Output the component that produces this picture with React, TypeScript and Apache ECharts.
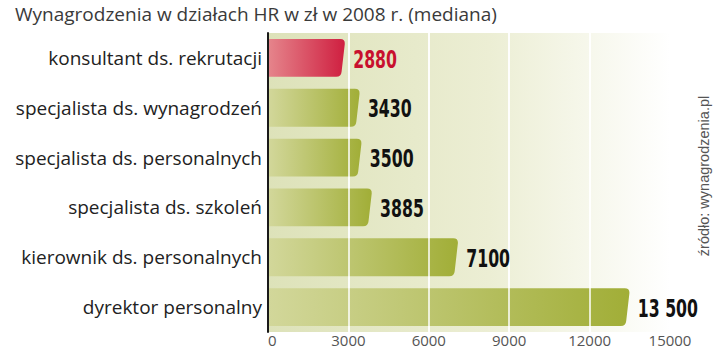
import React, { useEffect, useRef } from "react";
import * as echarts from "echarts";

const TITLE = "Wynagrodzenia w działach HR w zł w 2008 r. (mediana)";
const SOURCE = "źródło: wynagrodzenia.pl";
const categories = [
  "konsultant ds. rekrutacji",
  "specjalista ds. wynagrodzeń",
  "specjalista ds. personalnych",
  "specjalista ds. szkoleń",
  "kierownik ds. personalnych",
  "dyrektor personalny",
];
const values = [2880, 3430, 3500, 3885, 7100, 13500];
const highlighted = [true, false, false, false, false, false];
const xTicks = [0, 3000, 6000, 9000, 12000, 15000];

const fmt = (v: number) =>
  v >= 10000 ? String(v).replace(/\B(?=(\d{3})+(?!\d))/g, " ") : String(v);

export default function App() {
  const ref = useRef<HTMLDivElement>(null);
  useEffect(() => {
    if (!ref.current) return;
    const chart = echarts.init(ref.current, undefined, { renderer: "svg" });
    const green = () =>
      new echarts.graphic.LinearGradient(0, 0, 1, 0, [
        { offset: 0, color: "#d2d79a" },
        { offset: 1, color: "#a1ae37" },
      ]);
    const red = () =>
      new echarts.graphic.LinearGradient(0, 0, 1, 0, [
        { offset: 0, color: "#e5848b" },
        { offset: 1, color: "#cf1f40" },
      ]);
    chart.setOption({
      animation: false,
      backgroundColor: "#ffffff",
      grid: {
        left: 268,
        right: 50,
        top: 33,
        bottom: 22,
        show: true,
        borderWidth: 0,
        backgroundColor: new echarts.graphic.LinearGradient(0, 0, 1, 0, [
          { offset: 0, color: "#dde2b9" },
          { offset: 0.55, color: "#eceed4" },
          { offset: 1, color: "#ffffff" },
        ]),
      },
      graphic: [
        {
          type: "text",
          x: 15,
          y: 14,
          style: {
            text: TITLE,
            font: "19px 'Open Sans', sans-serif",
            fill: "#3a3a3a",
            verticalAlign: "middle",
          },
        },
        {
          type: "text",
          x: 704,
          y: 176,
          rotation: Math.PI / 2,
          style: {
            text: SOURCE,
            font: "14.5px 'Liberation Sans', Arial, sans-serif",
            fill: "#555555",
            align: "center",
            verticalAlign: "middle",
          },
        },
      ],
      xAxis: {
        type: "value",
        min: 0,
        max: 15000,
        interval: 3000,
        axisLine: { show: false },
        axisTick: { show: false },
        splitLine: { show: true, lineStyle: { color: "#ffffff", width: 1.5 } },
        axisLabel: {
          color: "#555555",
          fontSize: 15,
          fontFamily: "'Open Sans', sans-serif",
          margin: 8,
          verticalAlign: "middle",
          alignMinLabel: "left",
          formatter: (v: number) => (xTicks.includes(v) ? String(v) : ""),
        },
      },
      yAxis: {
        type: "category",
        data: categories,
        inverse: true,
        axisLine: { show: true, lineStyle: { color: "#1a1a1a", width: 2 } },
        axisTick: { show: false },
        axisLabel: {
          color: "#222222",
          fontSize: 19,
          fontFamily: "'Open Sans', sans-serif",
          margin: 6,
        },
      },
      series: [
        {
          type: "custom",
          z: 2,
          data: values.map((v, i) => [v, i]),
          renderItem: (params: any, api: any) => {
            const v = api.value(0);
            const i = api.value(1);
            const p1 = api.coord([v, i]);
            const p0 = api.coord([0, i]);
            const h = api.size([0, 1])[1] * 0.76;
            const x0 = p0[0] + 1;
            const x1 = p1[0];
            const y0 = p1[1] - h / 2;
            const y1 = p1[1] + h / 2;
            const r = 5;
            const s = 4;
            const d =
              `M${x0} ${y0} L${x1 - r} ${y0} Q${x1} ${y0} ${x1 - 0.4} ${y0 + r} ` +
              `L${x1 - s + 0.4} ${y1 - r} Q${x1 - s} ${y1} ${x1 - s - r} ${y1} ` +
              `L${x0} ${y1} Z`;
            return {
              type: "path",
              shape: { pathData: d },
              style: { fill: highlighted[i] ? red() : green() },
            };
          },
        },
        {
          type: "scatter",
          z: 3,
          data: [],
          markLine: {
            z: 3,
            silent: true,
            symbol: "none",
            label: { show: false },
            lineStyle: { color: "#ffffff", width: 1.5, type: "solid" },
            data: xTicks.slice(1).map((t) => ({ xAxis: t })),
          },
        },
        {
          type: "custom",
          z: 6,
          data: values.map((v, i) => [v, i]),
          renderItem: (params: any, api: any) => {
            const v = api.value(0);
            const i = api.value(1);
            const p = api.coord([v, i]);
            return {
              type: "text",
              x: p[0] + 8,
              y: p[1] + 1,
              scaleX: 0.7,
              style: {
                text: fmt(v),
                x: 0,
                y: 0,
                font: "bold 25px 'DejaVu Sans Condensed', 'DejaVu Sans', sans-serif",
                fill: highlighted[i] ? "#c8102e" : "#111111",
                verticalAlign: "middle",
              },
            };
          },
        },
      ],
    });
    return () => chart.dispose();
  }, []);
  return (
    <div
      ref={ref}
      style={{ position: "absolute", left: 0, top: 0, width: 720, height: 354 }}
    />
  );
}
